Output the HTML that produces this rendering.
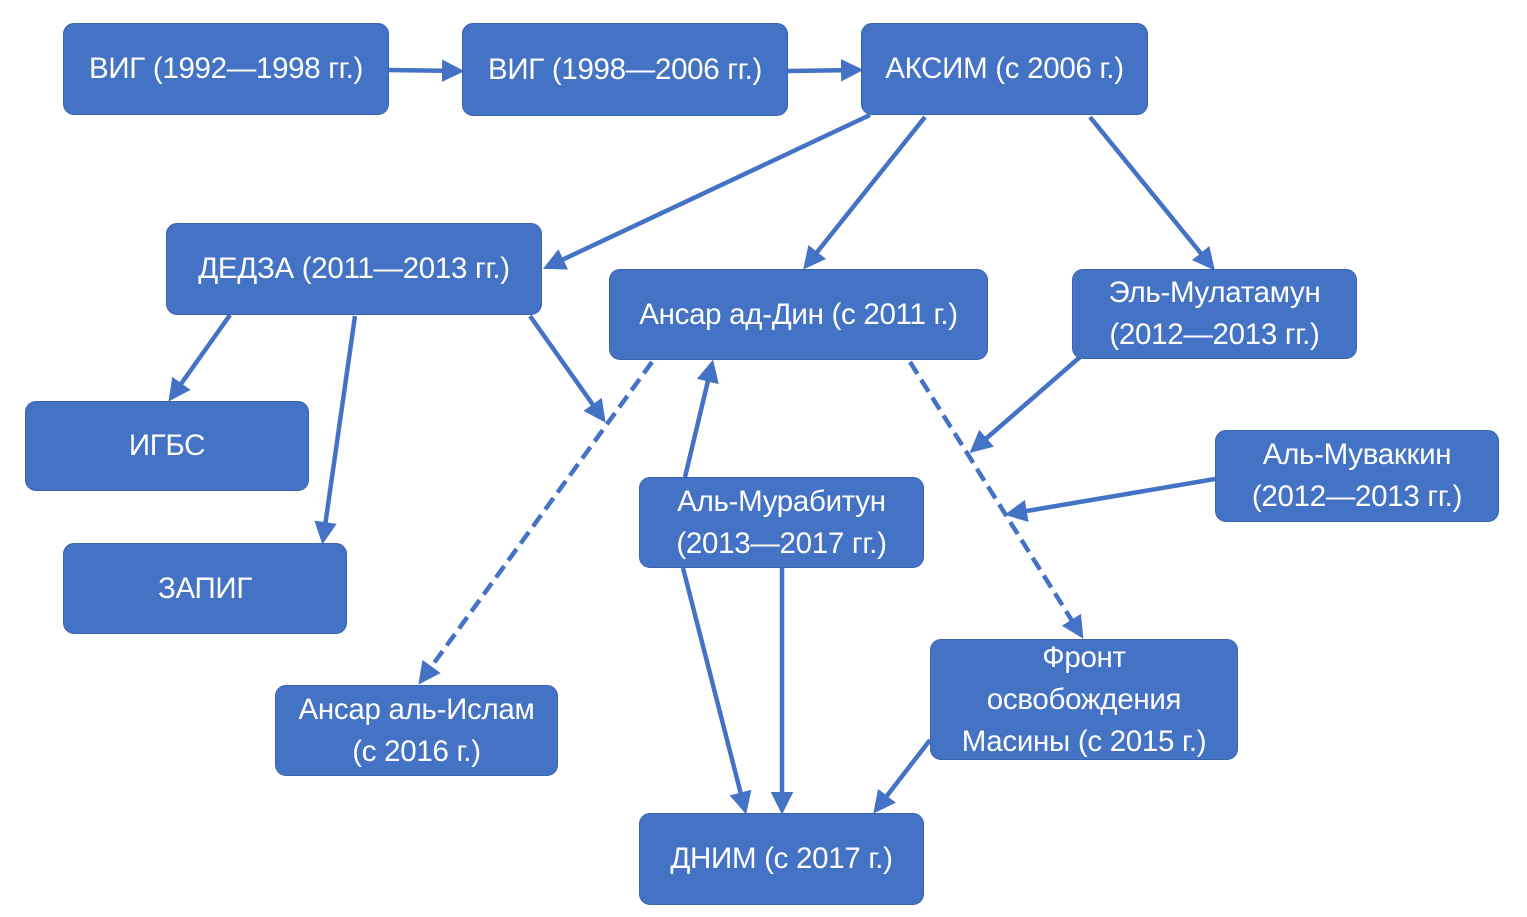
<!DOCTYPE html><html><head><meta charset="utf-8"><style>
body{margin:0;width:1527px;height:917px;background:#fff;position:relative;overflow:hidden;font-family:"Liberation Sans","DejaVu Sans",sans-serif}
.b{position:absolute;background:#4472C4;border:1.5px solid #3a63ad;border-radius:11px;color:#fff;font-size:29.5px;line-height:42px;display:flex;align-items:center;justify-content:center;text-align:center;box-sizing:border-box;white-space:nowrap;letter-spacing:-0.3px}
svg{position:absolute;left:0;top:0}
</style></head><body>
<svg width="1527" height="917"><defs><marker id="a" markerWidth="5" markerHeight="5" refX="4" refY="2.5" orient="auto"><path d="M0,0L5,2.5L0,5z" fill="#4472C4"/></marker></defs>
<g stroke="#4472C4" stroke-width="4.5" fill="none" marker-end="url(#a)">
<line x1="389" y1="70" x2="460" y2="71"/>
<line x1="788" y1="71" x2="859" y2="70"/>
<line x1="870" y1="115" x2="547" y2="267"/>
<line x1="925" y1="117" x2="806" y2="266"/>
<line x1="1090" y1="117" x2="1212" y2="267"/>
<line x1="230" y1="315" x2="171" y2="398"/>
<line x1="355" y1="316" x2="323" y2="540"/>
<line x1="530" y1="316" x2="603" y2="419"/>
<line x1="652" y1="362" x2="421" y2="681" stroke-dasharray="14,7"/>
<line x1="685" y1="477" x2="712" y2="364"/>
<line x1="1080" y1="357" x2="973" y2="450"/>
<line x1="910" y1="362" x2="1081" y2="635" stroke-dasharray="14,7"/>
<line x1="1215" y1="479" x2="1009" y2="514"/>
<line x1="683" y1="568" x2="745" y2="810"/>
<line x1="782" y1="568" x2="782" y2="810"/>
<line x1="930" y1="740" x2="876" y2="810"/>
</g></svg>
<div class="b" style="left:63px;top:23px;width:326px;height:92px">ВИГ (1992—1998 гг.)</div>
<div class="b" style="left:462px;top:23px;width:326px;height:93px">ВИГ (1998—2006 гг.)</div>
<div class="b" style="left:861px;top:23px;width:287px;height:92px">АКСИМ (с 2006 г.)</div>
<div class="b" style="left:166px;top:223px;width:376px;height:92px">ДЕДЗА (2011—2013 гг.)</div>
<div class="b" style="left:609px;top:269px;width:379px;height:91px">Ансар ад-Дин (с 2011 г.)</div>
<div class="b" style="left:1072px;top:269px;width:285px;height:90px">Эль-Мулатамун<br>(2012—2013 гг.)</div>
<div class="b" style="left:25px;top:401px;width:284px;height:90px">ИГБС</div>
<div class="b" style="left:63px;top:543px;width:284px;height:91px">ЗАПИГ</div>
<div class="b" style="left:1215px;top:430px;width:284px;height:92px">Аль-Муваккин<br>(2012—2013 гг.)</div>
<div class="b" style="left:639px;top:477px;width:285px;height:91px">Аль-Мурабитун<br>(2013—2017 гг.)</div>
<div class="b" style="left:930px;top:639px;width:308px;height:121px">Фронт<br>освобождения<br>Масины (с 2015 г.)</div>
<div class="b" style="left:275px;top:685px;width:283px;height:91px">Ансар аль-Ислам<br>(с 2016 г.)</div>
<div class="b" style="left:639px;top:813px;width:285px;height:92px">ДНИМ (с 2017 г.)</div>
</body></html>
